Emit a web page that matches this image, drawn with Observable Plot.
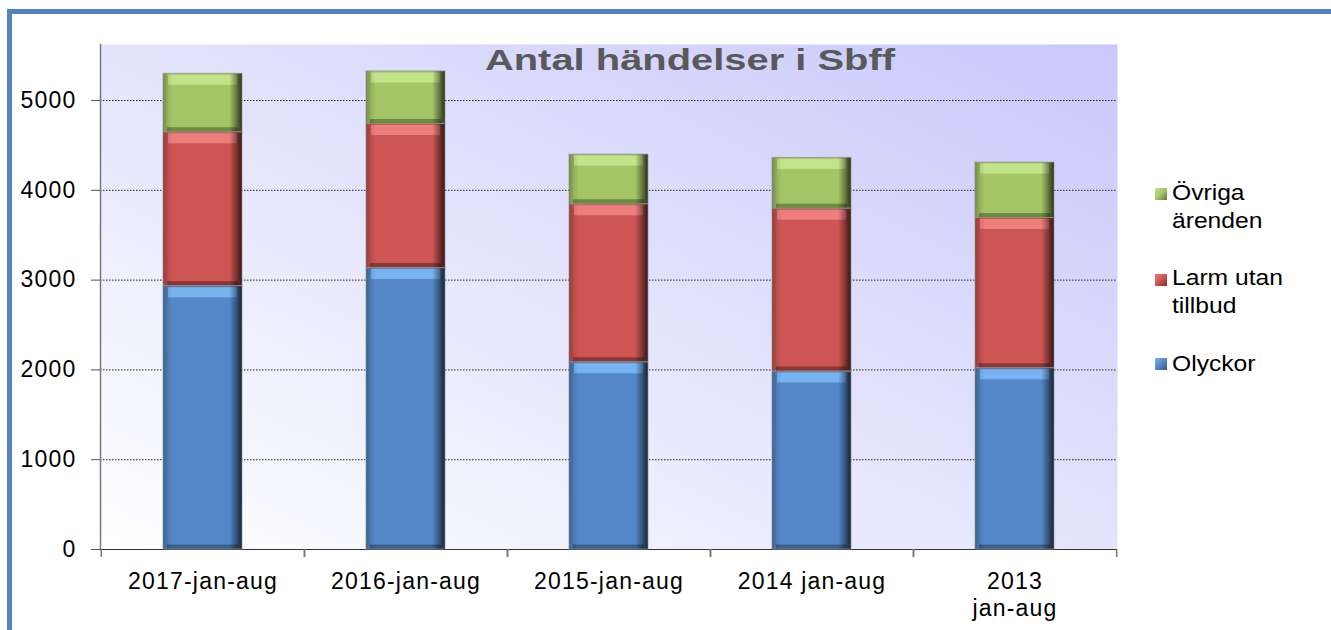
<!DOCTYPE html>
<html><head><meta charset="utf-8">
<script src="https://cdn.jsdelivr.net/npm/d3@7"></script>
<script src="https://cdn.jsdelivr.net/npm/@observablehq/plot@0.6"></script>
<style>
body{margin:0;background:#fff;font-family:"Liberation Sans",Arial,sans-serif;}
#wrap{position:relative;width:1331px;height:630px;overflow:hidden;}
#chart{position:absolute;left:0;top:0;}
#border{position:absolute;left:7px;top:9px;width:2000px;height:2000px;border-left:5px solid #5383bf;border-top:5px solid #5383bf;z-index:5;pointer-events:none;}
#title{position:absolute;left:690px;top:45px;font-size:30px;line-height:30px;font-weight:bold;color:#595959;white-space:nowrap;transform:translateX(-50%) scaleX(1.33);}
.lg{position:absolute;left:1172px;font-size:22px;line-height:27.5px;white-space:pre-line;color:#000;transform:scaleX(1.12);transform-origin:left top;}
.mk{position:absolute;left:1155px;width:12px;height:12px;}
</style></head><body>
<div id="wrap"><div id="chart"></div><div id="border"></div><div id="title">Antal händelser i Sbff</div><div id="legend"></div></div>
<script>
// ---- data ----
const categories = ["2017-jan-aug", "2016-jan-aug", "2015-jan-aug", "2014 jan-aug", "2013\njan-aug"];
const seriesNames = ["Olyckor", "Larm utan tillbud", "Övriga ärenden"];
const olyckor = [2933, 3134, 2085, 1981, 2019];
const larmUtanTillbud = [1713, 1605, 1759, 1815, 1672];
const ovrigaArenden = [652, 585, 554, 565, 618];
const yTicks = [0, 1000, 2000, 3000, 4000, 5000];
const gridTicks = [1000, 2000, 3000, 4000, 5000];
const legendLabels = ["Övriga\närenden", "Larm utan\ntillbud", "Olyckor"];
const legendSeries = ["Övriga ärenden", "Larm utan tillbud", "Olyckor"];

// ---- colours ----
const baseColor = {"Olyckor": "#5588c8", "Larm utan tillbud": "#cd5553", "Övriga ärenden": "#a4c466"};
const hiColor = {"Olyckor": "#78b2f0", "Larm utan tillbud": "#ec7e7b", "Övriga ärenden": "#c2e389"};
const darkColor = {"Olyckor": "#34567f", "Larm utan tillbud": "#7a302e", "Övriga ärenden": "#5f7d35"};

const seriesValues = [olyckor, larmUtanTillbud, ovrigaArenden];
const data = [];
categories.forEach((c, i) => {
  seriesNames.forEach((s, k) => data.push({cat: c, series: s, value: seriesValues[k][i]}));
});

const W = 1331, H = 630, mL = 100, mR = 214, mT = 44, mB = 81;
const step = (W - mL - mR) / categories.length;
const enc = {x: "cat", y: "value", z: "series"};

const svg = Plot.plot({
  width: W, height: H,
  marginLeft: mL, marginRight: mR, marginTop: mT, marginBottom: mB,
  style: {background: "transparent", fontFamily: "'Liberation Sans', Arial, sans-serif", fontSize: "22px", color: "#000", letterSpacing: "1.2px"},
  x: {domain: categories, paddingInner: 0.61, paddingOuter: 0.305, label: null},
  y: {domain: [0, 5624], label: null},
  color: {type: "identity"},
  marks: [
    Plot.frame({fill: "url(#bgGrad)", stroke: "none"}),
    Plot.gridY(gridTicks, {stroke: "#222", strokeOpacity: 1, strokeDasharray: "1.5,1.5"}),
    Plot.frame({anchor: "left", stroke: "#7a7a7a", strokeWidth: 1.5}),
    Plot.ruleY([0], {stroke: "#333", strokeWidth: 1.2}),
    Plot.axisY(yTicks, {label: null, tickFormat: d => String(d), tickSize: 9, tickPadding: 15, fontSize: 23, stroke: "#555", fill: "#000"}),
    Plot.axisX({label: null, tickSize: 0, tickPadding: 20, fontSize: 23, lineHeight: 1.18, fill: "#000"}),
    Plot.axisX({label: null, tickSize: 8, tickFormat: () => "", dx: -step / 2, stroke: "#777", strokeWidth: 1.5}),
    Plot.axisX({label: null, tickSize: 8, tickFormat: () => "", dx: step / 2, stroke: "#777", strokeWidth: 1.5}),
    Plot.rectY(data, {...enc, fill: d => baseColor[d.series]}),
    Plot.tickY(data, Plot.stackY2({...enc, stroke: d => hiColor[d.series], strokeWidth: 10, dy: 6, inset: 5})),
    Plot.tickY(data, Plot.stackY1({...enc, stroke: d => darkColor[d.series], strokeWidth: 5, dy: -2.5, inset: 4, strokeOpacity: 0.8})),
    Plot.rectY(data, {...enc, fill: "url(#shade)"}),
    Plot.rectY(data, {...enc, fill: "none", stroke: "#8f8f8f", strokeWidth: 1, strokeOpacity: 0.7})
  ]
});

const defs = d3.select(svg).insert("defs", ":first-child");
const bg = defs.append("linearGradient").attr("id", "bgGrad").attr("x1", 0).attr("y1", 1).attr("x2", 1).attr("y2", 0);
bg.append("stop").attr("offset", 0).attr("stop-color", "#ffffff");
bg.append("stop").attr("offset", 1).attr("stop-color", "#c8c8fc");
const sh = defs.append("linearGradient").attr("id", "shade").attr("x1", 0).attr("y1", 0).attr("x2", 1).attr("y2", 0);
[[0, 0.3], [0.07, 0.08], [0.12, 0], [0.84, 0], [0.92, 0.35], [1, 0.75]].forEach(([o, a]) =>
  sh.append("stop").attr("offset", o).attr("stop-color", "#000").attr("stop-opacity", a));

document.getElementById("chart").appendChild(svg);

// ---- legend ----
const lg = document.getElementById("legend");
const textTops = [179, 264, 350];
const markTops = [188, 274, 358];
legendSeries.forEach((s, i) => {
  const m = document.createElement("div");
  m.className = "mk";
  m.style.top = markTops[i] + "px";
  m.style.background = `linear-gradient(135deg, ${hiColor[s]} 0%, ${baseColor[s]} 50%, ${darkColor[s]} 100%)`;
  lg.appendChild(m);
  const t = document.createElement("div");
  t.className = "lg";
  t.style.top = textTops[i] + "px";
  t.textContent = legendLabels[i];
  lg.appendChild(t);
});
</script>
</body></html>
